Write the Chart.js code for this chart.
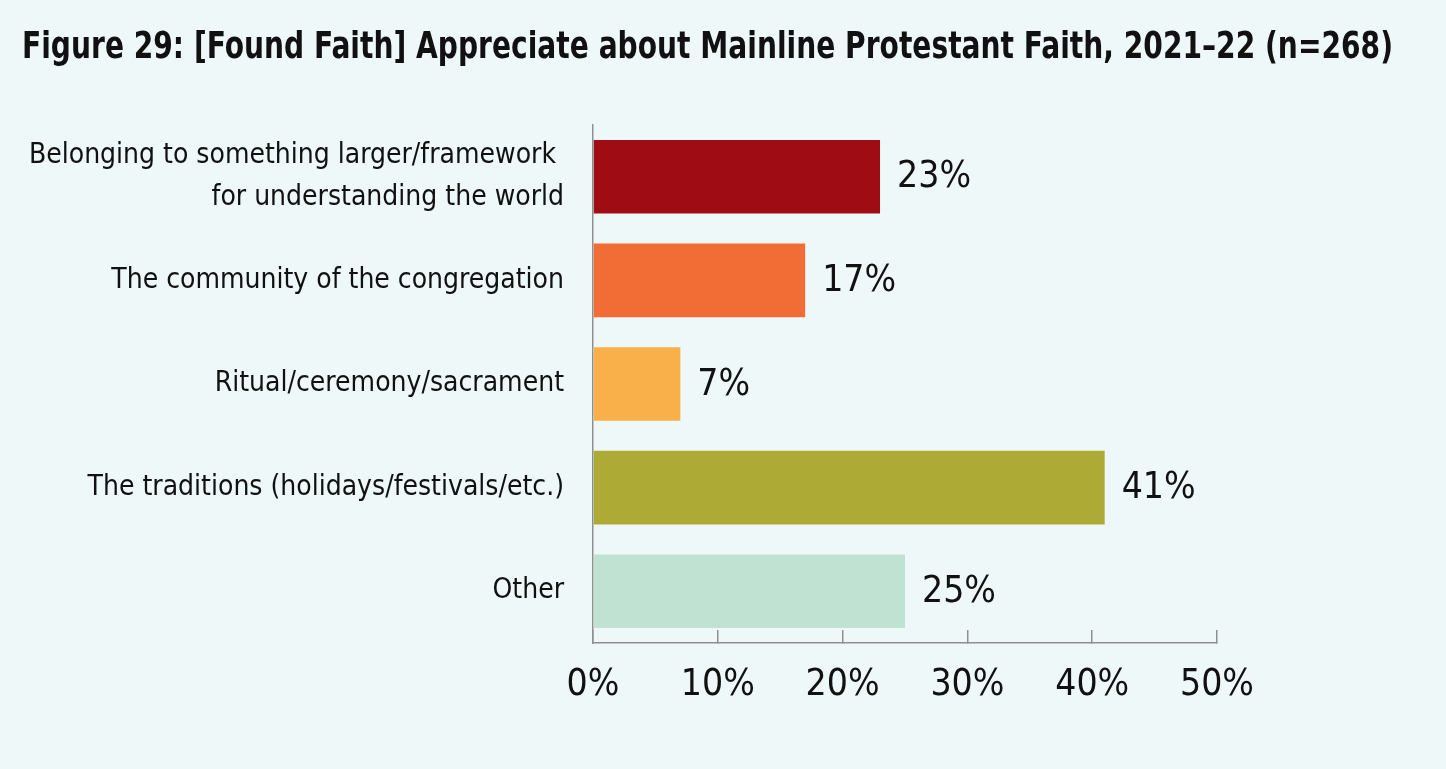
<!DOCTYPE html>
<html>
<head>
<meta charset="utf-8">
<script src="https://cdn.jsdelivr.net/npm/chart.js@4.4.1/dist/chart.umd.min.js"></script>
<style>
  html, body { margin: 0; padding: 0; background: #eef8f9; }
  #wrap { width: 1446px; height: 769px; position: relative; }
</style>
</head>
<body>
<div id="wrap"><canvas id="c" width="1446" height="769"></canvas></div>
<script>
const titleText = 'Figure 29: [Found Faith] Appreciate about Mainline Protestant Faith, 2021–22 (n=268)';
const categories = [
  ['Belonging to something larger/framework ', 'for understanding the world'],
  'The community of the congregation',
  'Ritual/ceremony/sacrament',
  'The traditions (holidays/festivals/etc.)',
  'Other'
];
const values = [23, 17, 7, 41, 25];
const barColors = ['#a00c13', '#f26d35', '#f9b04a', '#adab35', '#bfe2d3'];
const xTicks = [0, 10, 20, 30, 40, 50];

function pickFont(list) {
  const ctx = document.createElement('canvas').getContext('2d');
  const s = 'abcdefghijklmnopqrstuvwxyz0123456789';
  ctx.font = '40px monospace';
  const base = ctx.measureText(s).width;
  for (const f of list) {
    ctx.font = '40px "' + f + '", monospace';
    if (ctx.measureText(s).width !== base) return '"' + f + '"';
  }
  return 'sans-serif';
}
const FONT = pickFont(['Liberation Sans Narrow', 'DejaVu Sans Condensed', 'Roboto Condensed', 'Roboto']);

const valueLabels = {
  id: 'valueLabels',
  afterDatasetsDraw(chart) {
    const ctx = chart.ctx;
    const meta = chart.getDatasetMeta(0);
    const xs = chart.scales.x;
    ctx.save();
    ctx.font = '300 37px ' + FONT;
    ctx.fillStyle = '#111';
    ctx.textBaseline = 'middle';
    ctx.textAlign = 'left';
    meta.data.forEach((bar, i) => {
      const x = xs.getPixelForValue(values[i]) + 17;
      ctx.fillText(values[i] + '%', x, bar.y + 1);
    });
    ctx.restore();
  }
};

new Chart(document.getElementById('c'), {
  type: 'bar',
  data: {
    labels: categories,
    datasets: [{
      data: values,
      backgroundColor: barColors,
      borderWidth: 0,
      categoryPercentage: 1,
      barPercentage: 0.71
    }]
  },
  options: {
    indexAxis: 'y',
    responsive: false,
    animation: false,
    devicePixelRatio: 1,
    layout: { padding: { left: 22, right: 53, top: 0, bottom: 0 } },
    plugins: {
      legend: { display: false },
      tooltip: { enabled: false },
      title: {
        display: true,
        text: titleText,
        align: 'start',
        color: '#111',
        font: { family: FONT, size: 38, weight: 'bold', lineHeight: 1.2 },
        padding: { top: 25, bottom: 54.4 }
      }
    },
    scales: {
      x: {
        min: 0,
        max: 50,
        afterBuildTicks(scale) { scale.ticks = xTicks.map(v => ({ value: v })); },
        afterFit(scale) { scale.height = 126; },
        border: { display: true, color: '#8f8f8f', width: 1.5 },
        grid: { display: true, drawOnChartArea: false, drawTicks: true, tickLength: -13, color: '#8f8f8f', lineWidth: 1.5 },
        ticks: {
          callback: v => v + '%',
          color: '#111',
          font: { family: FONT, size: 37, weight: '300' },
          padding: 33,
          maxRotation: 0
        }
      },
      y: {
        afterFit(scale) { scale.width = 571; },
        border: { display: true, color: '#8f8f8f', width: 1.5 },
        grid: { display: false },
        ticks: {
          color: '#111',
          font: { family: FONT, size: 28, weight: '300', lineHeight: 1.5 },
          padding: 21
        }
      },
      spacer: {
        type: 'linear',
        axis: 'y',
        position: 'right',
        display: true,
        afterFit(scale) { scale.width = 176; },
        border: { display: false },
        grid: { display: false },
        ticks: { display: false }
      }
    }
  },
  plugins: [valueLabels]
});
</script>
</body>
</html>
